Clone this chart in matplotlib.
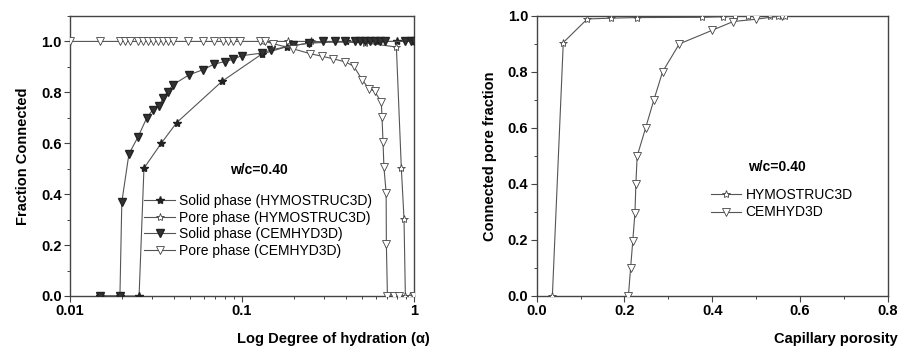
import matplotlib
matplotlib.use("Agg")
import matplotlib.pyplot as plt
from matplotlib.ticker import MultipleLocator, FixedLocator, FixedFormatter, LogLocator, NullFormatter

plt.rcParams['font.family'] = ['Liberation Sans', 'DejaVu Sans']

# ---- left panel: fraction connected vs degree of hydration ----
solid_hymo_x = [0.0149, 0.0195, 0.0252, 0.0269, 0.0339, 0.0417, 0.0764, 0.130, 0.183, 0.245,
                0.40, 0.60, 0.80, 1.0]
solid_hymo_y = [0.0, 0.0, 0.0, 0.502, 0.600, 0.681, 0.843, 0.950, 0.980, 0.993,
                1.0, 1.0, 1.0, 1.0]

pore_hymo_x = [0.131, 0.185, 0.250, 0.516, 0.789, 0.843, 0.874, 0.89, 0.95, 1.0]
pore_hymo_y = [1.0, 1.0, 1.0, 0.995, 0.978, 0.503, 0.303, 0.0, 0.0, 0.0]

solid_cem_x = [0.0149, 0.0195, 0.0200, 0.0220, 0.0249, 0.0279, 0.0302, 0.0329, 0.0348, 0.0369,
               0.0397, 0.0493, 0.0594, 0.0689, 0.0795, 0.0889, 0.0994, 0.130, 0.148, 0.198,
               0.244, 0.296, 0.346, 0.396, 0.452, 0.483, 0.516, 0.552, 0.590, 0.631,
               0.675, 0.881, 0.963, 1.0]
solid_cem_y = [0.0, 0.0, 0.369, 0.558, 0.626, 0.699, 0.731, 0.747, 0.777, 0.803,
               0.830, 0.869, 0.889, 0.911, 0.921, 0.930, 0.944, 0.954, 0.967, 0.984,
               0.993, 1.0, 1.0, 1.0, 1.0, 1.0, 1.0, 1.0, 1.0, 1.0,
               1.0, 1.0, 1.0, 1.0]

pore_cem_x = [0.01, 0.0149, 0.0195, 0.0208, 0.0223, 0.0249, 0.0267, 0.0285, 0.0305, 0.0326,
              0.0348, 0.0372, 0.0398, 0.0486, 0.0594, 0.0686, 0.0777, 0.0830, 0.0887, 0.0971,
              0.127, 0.136, 0.152, 0.198, 0.248, 0.290, 0.338, 0.396, 0.446, 0.498,
              0.547, 0.590, 0.645, 0.651, 0.660, 0.668, 0.688, 0.690, 0.70, 0.76, 0.82, 1.0]
pore_cem_y = [1.0, 1.0, 1.0, 1.0, 1.0, 1.0, 1.0, 1.0, 1.0, 1.0,
              1.0, 1.0, 1.0, 1.0, 1.0, 1.0, 1.0, 1.0, 1.0, 1.0,
              1.0, 1.0, 0.991, 0.971, 0.952, 0.942, 0.932, 0.920, 0.903, 0.850,
              0.814, 0.804, 0.761, 0.702, 0.604, 0.505, 0.406, 0.204, 0.0, 0.0, 0.0, 0.0]

# ---- right panel: connected pore fraction vs capillary porosity ----
hymo_por = [0.0357, 0.0606, 0.1153, 0.169, 0.229, 0.377, 0.425, 0.452, 0.482, 0.532, 0.551, 0.566]
hymo_frac = [0.0, 0.904, 0.988, 0.991, 0.993, 0.994, 0.996, 0.998, 1.0, 1.0, 1.0, 1.0]

cem_por = [0.209, 0.214, 0.219, 0.224, 0.226, 0.229, 0.248, 0.267, 0.287, 0.325,
           0.399, 0.448, 0.500, 0.560]
cem_frac = [0.0, 0.099, 0.197, 0.297, 0.398, 0.499, 0.598, 0.699, 0.800, 0.899,
            0.947, 0.979, 0.987, 1.0]

line_c = '#555555'
lw = 0.8
ms = 5.5

fig = plt.figure(figsize=(8.99, 3.47), dpi=100)
ax1 = fig.add_axes([0.0779, 0.147, 0.3827, 0.807])
ax2 = fig.add_axes([0.597, 0.147, 0.3904, 0.808])

ax1.plot(solid_hymo_x, solid_hymo_y, color=line_c, lw=lw, marker='*', ms=ms + 0.5,
         mfc='#222222', mec='#222222', label='Solid phase (HYMOSTRUC3D)', zorder=3)
ax1.plot(pore_hymo_x, pore_hymo_y, color=line_c, lw=lw, marker='*', ms=ms + 0.5,
         mfc='white', mec='#444444', mew=0.6, label='Pore phase (HYMOSTRUC3D)', zorder=3)
ax1.plot(solid_cem_x, solid_cem_y, color=line_c, lw=lw, marker='v', ms=ms,
         mfc='#333333', mec='#222222', label='Solid phase (CEMHYD3D)', zorder=3)
ax1.plot(pore_cem_x, pore_cem_y, color=line_c, lw=lw, marker='v', ms=ms,
         mfc='white', mec='#444444', mew=0.6, label='Pore phase (CEMHYD3D)', zorder=3)

ax1.set_xscale('log')
ax1.set_xlim(0.01, 1)
ax1.set_ylim(0, 1.1)
ax1.xaxis.set_major_locator(FixedLocator([0.01, 0.1, 1]))
ax1.xaxis.set_major_formatter(FixedFormatter(['0.01', '0.1', '1']))
ax1.xaxis.set_minor_locator(LogLocator(base=10, subs=range(2, 10)))
ax1.xaxis.set_minor_formatter(NullFormatter())
ax1.yaxis.set_major_locator(MultipleLocator(0.2))
ax1.yaxis.set_minor_locator(MultipleLocator(0.1))
ax1.yaxis.set_major_formatter(plt.FuncFormatter(lambda v, p: f'{v:.1f}'))
ax1.set_ylabel('Fraction Connected', fontsize=10.5, fontweight='bold', labelpad=8)
ax1.text(1.045, -0.128, 'Log Degree of hydration (α)', transform=ax1.transAxes,
         ha='right', va='top', fontsize=10.5, fontweight='bold')
ax1.text(0.55, 0.45, 'w/c=0.40', transform=ax1.transAxes, ha='center', va='center',
         fontsize=10, fontweight='bold')
ax1.legend(loc='upper left', bbox_to_anchor=(0.2, 0.385), frameon=False, fontsize=10,
           handlelength=2.2, handletextpad=0.3, labelspacing=0.2, borderaxespad=0)

ax2.plot(hymo_por, hymo_frac, color=line_c, lw=lw, marker='*', ms=ms + 0.5,
         mfc='white', mec='#444444', mew=0.6, label='HYMOSTRUC3D', zorder=3)
ax2.plot(cem_por, cem_frac, color=line_c, lw=lw, marker='v', ms=ms,
         mfc='white', mec='#444444', mew=0.6, label='CEMHYD3D', zorder=3)
ax2.set_xlim(0, 0.8)
ax2.set_ylim(0, 1.0)
ax2.xaxis.set_major_locator(MultipleLocator(0.2))
ax2.xaxis.set_minor_locator(MultipleLocator(0.1))
ax2.yaxis.set_major_locator(MultipleLocator(0.2))
ax2.yaxis.set_minor_locator(MultipleLocator(0.1))
ax2.xaxis.set_major_formatter(plt.FuncFormatter(lambda v, p: f'{v:.1f}'))
ax2.yaxis.set_major_formatter(plt.FuncFormatter(lambda v, p: f'{v:.1f}'))
ax2.set_ylabel('Connected pore fraction', fontsize=10.5, fontweight='bold', labelpad=8)
ax2.text(1.03, -0.13, 'Capillary porosity', transform=ax2.transAxes,
         ha='right', va='top', fontsize=10.5, fontweight='bold')
ax2.text(0.685, 0.46, 'w/c=0.40', transform=ax2.transAxes, ha='center', va='center',
         fontsize=10, fontweight='bold')
ax2.legend(loc='upper left', bbox_to_anchor=(0.48, 0.405), frameon=False, fontsize=10,
           handlelength=2.2, handletextpad=0.3, labelspacing=0.25, borderaxespad=0)

for ax in (ax1, ax2):
    for s in ax.spines.values():
        s.set_color('#444444')
        s.set_linewidth(1.0)
    ax.tick_params(which='major', direction='out', length=4, width=0.8, color='#444444',
                   labelsize=10.5, pad=2)
    ax.tick_params(which='minor', direction='out', length=2.5, width=0.7, color='#444444')
    for lab in ax.get_xticklabels() + ax.get_yticklabels():
        lab.set_fontweight('bold')

fig.savefig('out.png', dpi=100)
